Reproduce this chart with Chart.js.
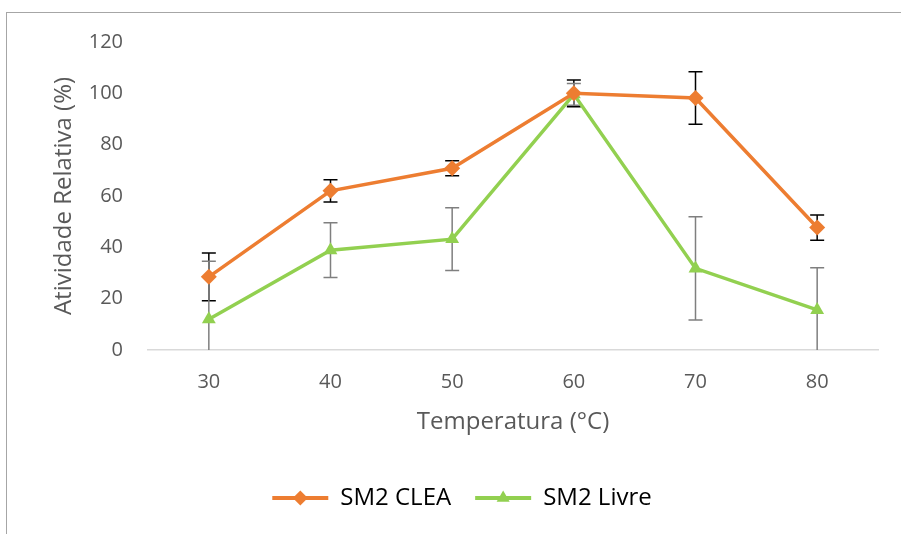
<!DOCTYPE html>
<html>
<head>
<meta charset="utf-8">
<script src="https://cdn.jsdelivr.net/npm/chart.js@4.4.1/dist/chart.umd.min.js"></script>
<style>
  html, body { margin: 0; padding: 0; background: #fff; }
  #wrap { position: relative; width: 901px; height: 534px; }
  #frame { position: absolute; left: 6px; top: 12px; right: 0; bottom: 0;
           border-left: 1px solid #a6a6a6; border-top: 1px solid #a6a6a6; pointer-events: none; }
</style>
</head>
<body>
<div id="wrap">
  <canvas id="tempChart" width="901" height="534"></canvas>
  <div id="frame"></div>
</div>
<script>
const temps = ["30", "40", "50", "60", "70", "80"];
const cleaValues = [28.5, 62, 70.8, 100, 98.2, 47.7];
const cleaErr = [9.3, 4.3, 2.9, 5.2, 10.2, 4.9];
const livreValues = [12, 38.9, 43.2, 99.6, 31.8, 15.6];
const livreErr = [22.6, 10.7, 12.2, 4.2, 20.1, 16.4];

const FONT = "'Open Sans', sans-serif";
const ORANGE = "#ED7D31";
const GREEN = "#92D050";

// error bars, drawn under the markers
const errorBars = {
  id: "errorBars",
  beforeDatasetsDraw(chart){
    const {ctx, chartArea} = chart;
    const y = chart.scales.y;
    ctx.save();
    ctx.beginPath();
    ctx.rect(chartArea.left, chartArea.top - 20, chartArea.right - chartArea.left, chartArea.bottom - chartArea.top + 20);
    ctx.clip();
    chart.data.datasets.forEach((ds, i) => {
      const meta = chart.getDatasetMeta(i);
      ctx.strokeStyle = ds.errColor;
      ctx.lineWidth = 1.5;
      meta.data.forEach((pt, j) => {
        const v = ds.data[j], e = ds.errors[j];
        const hi = y.getPixelForValue(v + e);
        const lo = y.getPixelForValue(Math.max(v - e, y.min));
        ctx.beginPath();
        ctx.moveTo(pt.x, hi); ctx.lineTo(pt.x, lo);
        ctx.moveTo(pt.x - 7, hi); ctx.lineTo(pt.x + 7, hi);
        if (v - e >= y.min) { ctx.moveTo(pt.x - 7, lo); ctx.lineTo(pt.x + 7, lo); }
        ctx.stroke();
      });
    });
    ctx.restore();
  }
};

// put the marker on top of the legend line
const legendMarkers = {
  id: "legendMarkers",
  afterDraw(chart){
    const lg = chart.legend;
    if(!lg || !lg.legendHitBoxes) return;
    const ctx = chart.ctx;
    lg.legendHitBoxes.forEach((box, i) => {
      const ds = chart.data.datasets[i];
      const cx = box.left + lg.options.labels.boxWidth / 2;
      const cy = box.top + box.height / 2;
      const r = 7.5;
      ctx.save();
      ctx.fillStyle = ds.borderColor;
      ctx.beginPath();
      if (ds.pointStyle === "rectRot") {
        ctx.moveTo(cx, cy - r); ctx.lineTo(cx + r, cy); ctx.lineTo(cx, cy + r); ctx.lineTo(cx - r, cy);
      } else {
        ctx.moveTo(cx, cy - r); ctx.lineTo(cx + r * 0.87, cy + r * 0.5); ctx.lineTo(cx - r * 0.87, cy + r * 0.5);
      }
      ctx.closePath();
      ctx.fill();
      ctx.restore();
    });
  }
};

new Chart(document.getElementById("tempChart"), {
  type: "line",
  data: {
    labels: temps,
    datasets: [
      {
        label: "SM2 CLEA",
        data: cleaValues,
        errors: cleaErr,
        errColor: "#000000",
        borderColor: ORANGE,
        backgroundColor: ORANGE,
        borderWidth: 3.5,
        pointStyle: "rectRot",
        pointRadius: 8,
        pointBorderWidth: 0,
        tension: 0
      },
      {
        label: "SM2 Livre",
        data: livreValues,
        errors: livreErr,
        errColor: "#7f7f7f",
        borderColor: GREEN,
        backgroundColor: GREEN,
        borderWidth: 3.5,
        pointStyle: "triangle",
        pointRadius: 8,
        pointBorderWidth: 0,
        tension: 0
      }
    ]
  },
  options: {
    responsive: false,
    animation: false,
    layout: { padding: { top: 42, right: 23, bottom: 24, left: 46 } },
    plugins: {
      tooltip: { enabled: false },
      legend: {
        position: "bottom",
        maxHeight: 48,
        labels: {
          font: { family: FONT, size: 24 },
          color: "#404040",
          boxWidth: 56,
          boxHeight: 4,
          padding: 24,
          generateLabels(chart){
            return chart.data.datasets.map((ds, i) => ({
              text: ds.label,
              fillStyle: ds.borderColor,
              strokeStyle: ds.borderColor,
              lineWidth: 0,
              datasetIndex: i
            }));
          }
        }
      }
    },
    scales: {
      x: {
        offset: true,
        grid: { display: true, color: "rgba(0,0,0,0)", drawOnChartArea: false, drawTicks: false, offset: false },
        border: { display: true, color: "#d9d9d9", width: 1.5 },
        ticks: { font: { family: FONT, size: 20 }, color: "#595959", padding: 20 },
        title: { display: true, text: "Temperatura (°C)", font: { family: FONT, size: 24 }, color: "#595959", padding: { top: 0, bottom: 25 } },
        afterFit(scale){ scale.height = 112; }
      },
      y: {
        min: 0,
        max: 120,
        grid: { display: false, drawTicks: false },
        border: { display: false },
        ticks: { stepSize: 20, font: { family: FONT, size: 20 }, color: "#595959", padding: 25 },
        title: { display: true, text: "Atividade Relativa (%)", font: { family: FONT, size: 24 }, color: "#595959", padding: { top: 4, bottom: 0 } },
        afterFit(scale){ scale.width = 102; }
      }
    }
  },
  plugins: [errorBars, legendMarkers]
});
</script>
</body>
</html>
